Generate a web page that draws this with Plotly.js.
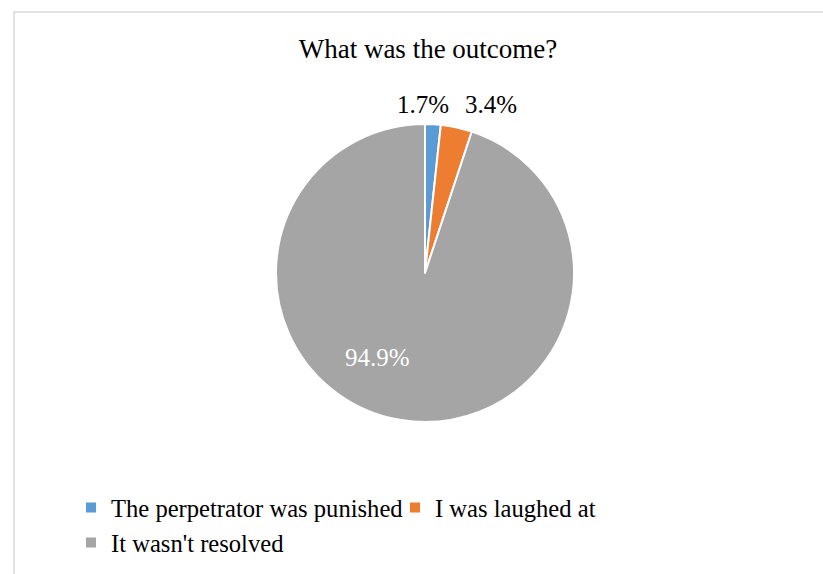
<!DOCTYPE html>
<html>
<head>
<meta charset="utf-8">
<script src="https://cdn.plot.ly/plotly-3.0.1.min.js"></script>
<style>html,body{margin:0;padding:0;background:#fff;}#chart{width:823px;height:574px;}</style>
</head>
<body>
<div id="chart"></div>
<script>
const categories = ["The perpetrator was punished", "I was laughed at", "It wasn't resolved"];
const counts = [1, 2, 56];
const sliceColors = ["#5B9BD5", "#ED7D31", "#A5A5A5"];
const labelColors = ["#000000", "#000000", "#FFFFFF"];
const chartTitle = "What was the outcome?";

const W = 823, H = 574;
const FONT = "Liberation Serif";
const cx = 425, cy = 273, r = 149;

// pixel anchors of the data labels (layout only)
const labelAnchors = [[422.5, 105], [491, 105], [377.5, 357]];

const total = counts.reduce((a, b) => a + b, 0);

const trace = {
  type: "pie",
  labels: categories,
  values: counts,
  sort: false,
  direction: "clockwise",
  rotation: 0,
  marker: {colors: sliceColors, line: {color: "#FFFFFF", width: 2}},
  textinfo: "none",
  domain: {x: [(cx - r) / W, (cx + r) / W], y: [1 - (cy + r) / H, 1 - (cy - r) / H]},
  hoverinfo: "label+percent",
  showlegend: true
};

const annotations = counts.map((v, i) => ({
  text: (v / total * 100).toFixed(1) + "%",
  xref: "paper", yref: "paper",
  x: labelAnchors[i][0] / W, y: 1 - labelAnchors[i][1] / H,
  xanchor: "center", yanchor: "middle",
  showarrow: false,
  font: {family: FONT, size: 25, color: labelColors[i]}
}));

const layout = {
  width: W, height: H,
  margin: {l: 0, r: 0, t: 0, b: 0},
  paper_bgcolor: "#FFFFFF",
  plot_bgcolor: "#FFFFFF",
  font: {family: FONT, color: "#000000"},
  title: {text: chartTitle, font: {family: FONT, size: 27, color: "#000000"},
          x: 428 / W, xanchor: "center", xref: "paper",
          y: 1 - 49 / H, yanchor: "middle", yref: "container"},
  showlegend: true,
  legend: {orientation: "h", x: 78 / W, xanchor: "left", y: 1 - 485 / H, yanchor: "top",
           font: {family: FONT, size: 24.6, color: "#000000"},
           indentation: -7, entrywidth: 286, entrywidthmode: "pixels",
           bgcolor: "rgba(0,0,0,0)"},
  annotations: annotations,
  shapes: [{type: "rect", xref: "paper", yref: "paper", x0: 14 / W, x1: 1.02, y0: -0.02, y1: 1 - 12 / H,
            line: {color: "#D9D9D9", width: 1.5}, fillcolor: "rgba(0,0,0,0)", layer: "below"}]
};

Plotly.newPlot("chart", [trace], layout, {displayModeBar: false, responsive: false});
</script>
</body>
</html>
